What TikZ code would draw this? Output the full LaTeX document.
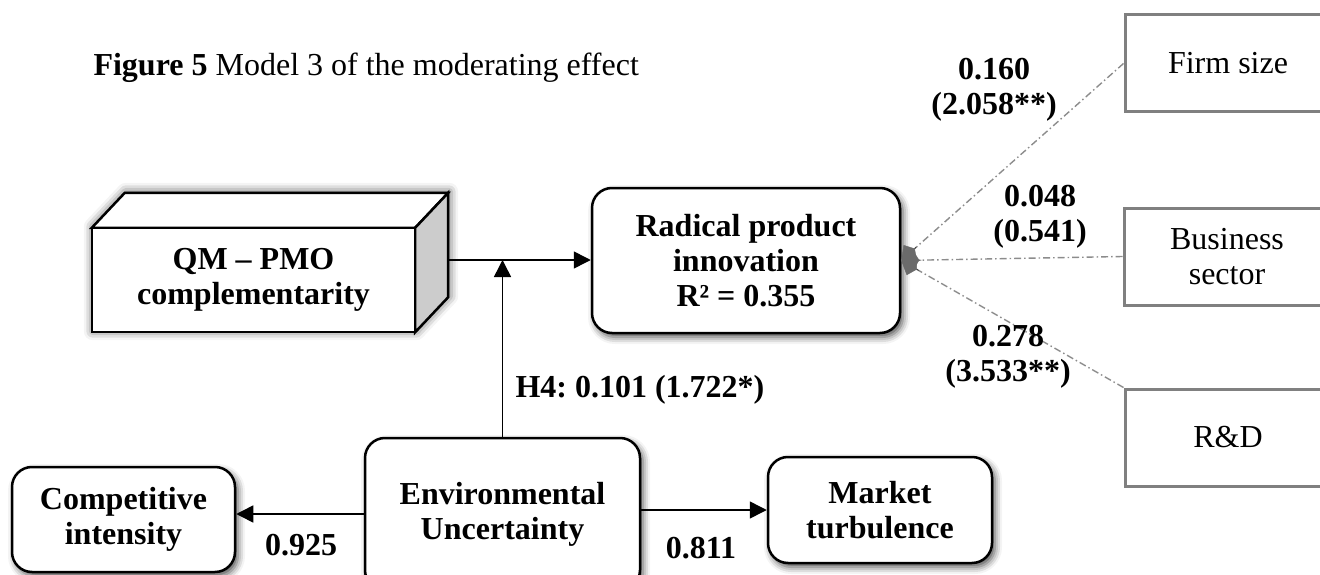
\documentclass[tikz,border=0pt]{standalone}
\usepackage{fontspec}
\setmainfont{Liberation Serif}
\usepackage{tikz}
\usetikzlibrary{positioning}
\usetikzlibrary{calc}
\usetikzlibrary{arrows.meta}
\usetikzlibrary{shadows.blur}
\frenchspacing
\begin{document}
\begin{tikzpicture}[x=1pt, y=-1pt, font=\fontsize{32}{35}\selectfont,
  construct/.style={draw, line width=2.5pt, rounded corners=20pt, fill=white, align=center, font=\fontsize{32}{35}\selectfont\bfseries,
    blur shadow={shadow xshift=3pt, shadow yshift=-4pt, shadow blur radius=7pt, shadow opacity=70}},
  control/.style={draw=black!50, line width=3pt, fill=white, align=center, minimum width=206pt, minimum height=97pt},
  coef/.style={font=\fontsize{32}{35}\selectfont\bfseries, align=center},
  link/.style={line width=1.5pt, -{Triangle[length=17pt, width=17pt, color=black, fill=black]}},
  ctrllink/.style={black!45, line width=1.4pt, dash pattern=on 7pt off 3pt on 1.5pt off 3pt},
  kite/.style={-{Kite[length=18pt, width=20pt, inset=6pt, color=black!58, fill=black!58]}}]
\useasboundingbox (0,0) rectangle (1320,575);

\node[anchor=base west] (title) at (90,76) {\textbf{Figure 5} Model 3 of the moderating effect};

\node[construct, minimum width=308pt, minimum height=145pt] (rpi) at (746,260.5) {Radical product\\innovation\\R² = 0.355};
\node[construct, minimum width=275pt, minimum height=152pt] (env) at (502.5,514) {Environmental\\Uncertainty};
\node[construct, minimum width=223pt, minimum height=105pt] (comp) at (123.5,519.5) {Competitive\\intensity};
\node[construct, minimum width=224pt, minimum height=106pt] (mkt) at (880,510) {Market\\turbulence};

\node[minimum width=323pt, minimum height=104pt, inner sep=0pt] (qm) at (253.5,280) {};
\coordinate (qmtl) at ($(qm.north west)+(33,-35)$);
\coordinate (qmtr) at ($(qm.north east)+(33,-35)$);
\coordinate (qmbr) at ($(qm.south east)+(33,-35)$);
\path[fill=white, blur shadow={shadow xshift=1pt, shadow yshift=1pt, shadow blur radius=9pt, shadow opacity=70}]
  (qm.south west) -- (qm.north west) -- (qmtl) -- (qmtr) -- (qmbr) -- (qm.south east) -- cycle;
\draw[line width=2.5pt, fill=white] (qm.north west) -- (qmtl) -- (qmtr) -- (qm.north east) -- cycle;
\draw[line width=2.5pt, fill=gray!40] (qm.north east) -- (qmtr) -- (qmbr) -- (qm.south east) -- cycle;
\draw[line width=2.5pt, fill=white] (qm.south west) rectangle (qm.north east);
\node[font=\fontsize{32}{35}\selectfont\bfseries, align=center] (qmtext) at (qm.center) {QM – PMO\\complementarity};

\node[control] (firm) at (1228,63.5) {Firm size};
\node[control] (bus) at (1227,256.5) {Business\\sector};
\node[control] (rd) at (1228,437.5) {R\&D};

\coordinate (qmout) at ($(qm.east)+(33,-20)$);
\draw[link] (qmout) -- (qmout -| rpi.west);
\draw[link] (env.north) -- (env.north |- qmout);
\draw[link] (env.west) -- (env.west -| comp.east);
\draw[link] (mkt.west -| env.east) -- (mkt.west);

\draw[ctrllink] (firm.west) -- (rpi.east);
\draw[ctrllink] (bus.west) -- (rpi.east);
\draw[ctrllink] (rd.north west) -- (rpi.east);
\draw[kite] ($(rpi.east)!20pt!(firm.west)$) -- (rpi.east);
\draw[kite] ($(rpi.east)!20pt!(bus.west)$) -- (rpi.east);
\draw[kite] ($(rpi.east)!20pt!(rd.north west)$) -- (rpi.east);

\node[coef, anchor=west] (h4) at (512,390) {H4: 0.101 (1.722*)};
\node[coef] (ci) at (301,545) {0.925};
\node[coef] (mt) at (701,548) {0.811};
\node[coef] (cfirm) at (994,90) {0.160\\(2.058**)};
\node[coef] (cbus) at (1040,217) {0.048\\(0.541)};
\node[coef] (crd) at (1008,357) {0.278\\(3.533**)};
\end{tikzpicture}
\end{document}
